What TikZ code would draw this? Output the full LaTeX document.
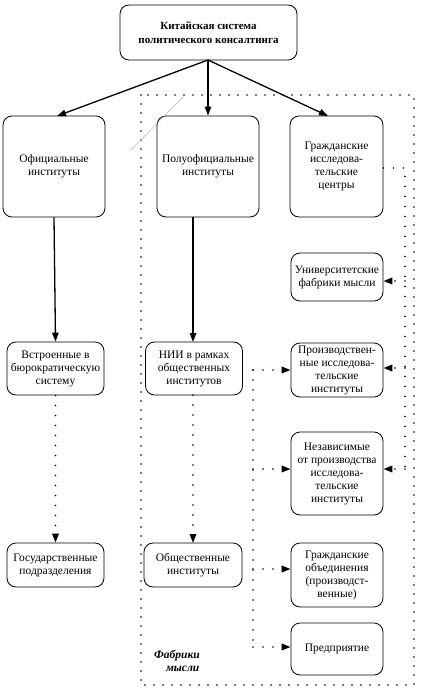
\documentclass[tikz,border=0pt]{standalone}
\usepackage{fontspec}
\setmainfont{Liberation Serif}
\usetikzlibrary{arrows.meta}
\begin{document}
\begin{tikzpicture}[x=1pt,y=-1pt,
  box/.style={draw,line width=0.8pt,rounded corners=9pt,align=center,inner sep=1pt,
    font=\fontsize{11.5}{13}\selectfont},
  arr/.style={line width=1.3pt,-{Triangle[length=9pt,width=6.5pt]}},
  dotl/.style={line width=1.8pt,line cap=round,dash pattern=on 0pt off 10pt},
  dotarr/.style={dotl,-{Triangle[length=9pt,width=6.5pt]}},
  frame/.style={line width=1.8pt,line cap=round,dash pattern=on 0pt off 9pt}]
\useasboundingbox (0,0) rectangle (421,690);
\draw[frame] (141,95) rectangle (414,685);
\node[box,minimum width=177pt,minimum height=55pt,font=\fontsize{11}{14}\selectfont\bfseries] (top) at (208.5,32.5) {Китайская система\\политического консалтинга};
\node[box,minimum width=102pt,minimum height=101pt] (off) at (54,166.5) {Официальные\\институты};
\node[box,minimum width=102pt,minimum height=101pt] (semi) at (208,166.5) {Полуофициальные\\институты};
\node[box,minimum width=93pt,minimum height=101pt] (civ) at (336.5,166.5) {Гражданские\\исследова-\\тельские\\центры};
\node[box,minimum width=92pt,minimum height=48pt] (univ) at (337,277) {Университетские\\фабрики мысли};
\node[box,minimum width=92pt,minimum height=54pt] (prod) at (337,370) {Производствен-\\ные исследова-\\тельские\\институты};
\node[box,minimum width=92pt,minimum height=83pt] (indep) at (337,473.5) {Независимые\\от производства\\исследова-\\тельские\\институты};
\node[box,minimum width=92pt,minimum height=64pt] (gob) at (337,575) {Гражданские\\объединения\\(производст-\\венные)};
\node[box,minimum width=92pt,minimum height=52pt] (ent) at (337,649) {Предприятие};
\node[box,minimum width=97pt,minimum height=53pt] (emb) at (55.5,368.5) {Встроенные в\\бюрократическую\\систему};
\node[box,minimum width=97pt,minimum height=53pt] (nii) at (194,368.5) {НИИ в рамках\\общественных\\институтов};
\node[box,minimum width=97pt,minimum height=44pt] (gov) at (55.5,565) {Государственные\\подразделения};
\node[box,minimum width=98pt,minimum height=44pt] (pub) at (193,565) {Общественные\\институты};
\node[align=center,font=\fontsize{11.5}{13}\selectfont\bfseries\itshape] (fab) at (177,661) {Фабрики\\\quad мысли};
% solid arrows
\coordinate (ts) at (208,60);
\draw[arr] (ts) -- (57,116);
\draw[arr] (ts) -- (semi.north);
\draw[arr] (ts) -- (328,116);
\draw[arr] (off.south) -- (emb.north);
\draw[arr] (193,217) -- (193,342);
% thin gray line
\coordinate (g1) at (183,97);
\coordinate (g2) at (131,150);
\draw[gray!70,line width=0.4pt] (g1) -- (g2);
% dotted arrows
\draw[dotarr] (emb.south) -- (gov.north);
\draw[dotarr] (193,395) -- (193,543);
% right bus
\coordinate (rb0) at (405,168);
\coordinate (rb1) at (405,281);
\coordinate (rb2) at (405,368);
\coordinate (rb3) at (405,469);
\draw[dotl] (civ.east |- rb0) -- (rb0) -- (rb3);
\draw[dotarr] (rb1) -- (rb1 -| univ.east);
\draw[dotarr] (rb2) -- (rb2 -| prod.east);
\draw[dotarr] (rb3) -- (rb3 -| indep.east);
% left bus
\coordinate (lb0) at (253,370);
\coordinate (lb1) at (253,469);
\coordinate (lb2) at (253,569);
\coordinate (lb3) at (253,647);
\draw[dotarr] (lb0) -- (lb0 -| prod.west);
\draw[dotl] (lb0) -- (lb3);
\draw[dotarr] (lb1) -- (lb1 -| indep.west);
\draw[dotarr] (lb2) -- (lb2 -| gob.west);
\draw[dotarr] (lb3) -- (lb3 -| ent.west);
\end{tikzpicture}
\end{document}
